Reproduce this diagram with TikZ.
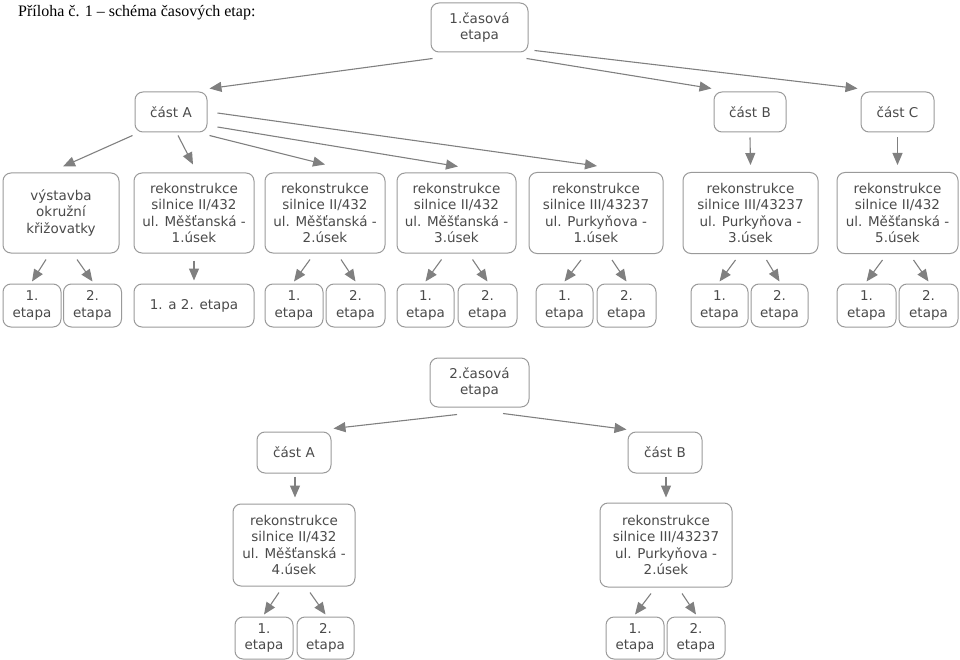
\documentclass[tikz,border=0pt]{standalone}
\usepackage{fontspec}
\setmainfont{Liberation Serif}
\newfontfamily\dv{DejaVu Sans}
\usetikzlibrary{arrows.meta}
\definecolor{boxgray}{HTML}{9A9A9A}
\definecolor{txtgray}{HTML}{4A4A4A}
\definecolor{arrgray}{HTML}{808080}
\tikzset{
  box/.style={draw=boxgray, line width=1pt, rounded corners=8pt, align=center, inner sep=0pt,
    font=\dv\fontsize{13.5}{16.5}\selectfont, text=txtgray},
  arr/.style={draw=arrgray, line width=1.1pt, -{Triangle[length=12pt,width=10pt]}}
}
\newcommand\leafarr[3]{%
  \draw[arr] ([xshift=-15pt,yshift=-6pt]#1.south) -- ([yshift=2pt]#2.north);
  \draw[arr] ([xshift=16pt,yshift=-6pt]#1.south) -- ([yshift=2pt]#3.north);}
\begin{document}
\begin{tikzpicture}[x=1pt,y=-1pt]
\useasboundingbox (0,0) rectangle (960,660);
\node[anchor=base west, font=\fontsize{16}{19}\selectfont, inner sep=0pt] (title) at (18,17) {Příloha č. 1 – schéma časových etap:};

% top tree
\node[box, minimum width=97pt, minimum height=49pt] (T1) at (479.5,27.5) {1.časová\\etapa};
\node[box, minimum width=72pt, minimum height=40pt] (A1) at (171,112) {část A};
\node[box, minimum width=72pt, minimum height=40pt] (B1) at (750,112) {část B};
\node[box, minimum width=73pt, minimum height=40pt] (C1) at (897.5,112) {část C};

\node[box, minimum width=116pt, minimum height=80pt] (V) at (61,213) {výstavba\\okružní\\křižovatky};
\node[box, minimum width=120pt, minimum height=80pt] (R1) at (194,213) {rekonstrukce\\silnice II/432\\ul. Měšťanská -\\1.úsek};
\node[box, minimum width=120pt, minimum height=80pt] (R2) at (325,213) {rekonstrukce\\silnice II/432\\ul. Měšťanská -\\2.úsek};
\node[box, minimum width=119pt, minimum height=80pt] (R3) at (456.5,213) {rekonstrukce\\silnice II/432\\ul. Měšťanská -\\3.úsek};
\node[box, minimum width=134pt, minimum height=81pt] (P1) at (596,213) {rekonstrukce\\silnice III/43237\\ul. Purkyňova -\\1.úsek};
\node[box, minimum width=135pt, minimum height=81pt] (P3) at (750.5,213) {rekonstrukce\\silnice III/43237\\ul. Purkyňova -\\3.úsek};
\node[box, minimum width=121pt, minimum height=81pt] (R5) at (897.5,213) {rekonstrukce\\silnice II/432\\ul. Měšťanská -\\5.úsek};

\node[box, minimum width=58pt, minimum height=43pt] (Va) at (32,305.5) {1.\\etapa};
\node[box, minimum width=58pt, minimum height=43pt] (Vb) at (92.5,305.5) {2.\\etapa};
\node[box, minimum width=120pt, minimum height=43pt] (R1L) at (194,305.5) {1. a 2. etapa};
\node[box, minimum width=58pt, minimum height=43pt] (R2a) at (294,305.5) {1.\\etapa};
\node[box, minimum width=59pt, minimum height=43pt] (R2b) at (355.5,305.5) {2.\\etapa};
\node[box, minimum width=57pt, minimum height=43pt] (R3a) at (425.5,305.5) {1.\\etapa};
\node[box, minimum width=59pt, minimum height=43pt] (R3b) at (487.5,305.5) {2.\\etapa};
\node[box, minimum width=57pt, minimum height=43pt] (P1a) at (564.5,305.5) {1.\\etapa};
\node[box, minimum width=59pt, minimum height=43pt] (P1b) at (626.5,305.5) {2.\\etapa};
\node[box, minimum width=57pt, minimum height=43pt] (P3a) at (719.5,305.5) {1.\\etapa};
\node[box, minimum width=57pt, minimum height=43pt] (P3b) at (779.5,305.5) {2.\\etapa};
\node[box, minimum width=59pt, minimum height=43pt] (R5a) at (866.5,305.5) {1.\\etapa};
\node[box, minimum width=59pt, minimum height=43pt] (R5b) at (928.5,305.5) {2.\\etapa};

\draw[arr] ([xshift=2pt,yshift=-6pt]T1.south west) -- ([xshift=2pt,yshift=3pt]A1.north east);
\draw[arr] ([xshift=-2pt,yshift=-6pt]T1.south east) -- ([xshift=-2pt,yshift=3pt]B1.north west);
\draw[arr] ([xshift=6pt,yshift=2pt]T1.south east) -- ([xshift=-3pt,yshift=3pt]C1.north west);

\draw[arr] ([xshift=-2pt,yshift=-3pt]A1.south west) -- ([xshift=2pt,yshift=6pt]V.north);
\draw[arr] ([xshift=7pt,yshift=-3pt]A1.south) -- ([xshift=-1pt,yshift=8pt]R1.north);
\draw[arr] ([xshift=2pt,yshift=-3pt]A1.south east) -- ([yshift=8pt]R2.north);
\draw[arr] ([xshift=10pt,yshift=-15pt]A1.east) -- ([xshift=1.5pt,yshift=6pt]R3.north);
\draw[arr] ([xshift=10pt,yshift=-1pt]A1.east) -- ([xshift=1pt,yshift=6pt]P1.north);
\draw[arr] ([yshift=-5pt]B1.south) -- ([yshift=7pt]P3.north);
\draw[arr] ([yshift=-5pt]C1.south) -- ([yshift=7pt]R5.north);

\leafarr{V}{Va}{Vb}
\draw[arr] ([yshift=-7pt]R1.south) -- ([yshift=3pt]R1L.north);
\leafarr{R2}{R2a}{R2b}
\leafarr{R3}{R3a}{R3b}
\leafarr{P1}{P1a}{P1b}
\leafarr{P3}{P3a}{P3b}
\leafarr{R5}{R5a}{R5b}

% bottom tree
\node[box, minimum width=99pt, minimum height=49pt] (T2) at (479.5,382.5) {2.časová\\etapa};
\node[box, minimum width=74pt, minimum height=41pt] (A2) at (294,452.5) {část A};
\node[box, minimum width=74pt, minimum height=41pt] (B2) at (665,452.5) {část B};
\node[box, minimum width=122pt, minimum height=82pt] (R4) at (294,545) {rekonstrukce\\silnice II/432\\ul. Měšťanská -\\4.úsek};
\node[box, minimum width=132pt, minimum height=84pt] (P2) at (666,545) {rekonstrukce\\silnice III/43237\\ul. Purkyňova -\\2.úsek};
\node[box, minimum width=58pt, minimum height=42pt] (R4a) at (264,638) {1.\\etapa};
\node[box, minimum width=57pt, minimum height=42pt] (R4b) at (325.5,638) {2.\\etapa};
\node[box, minimum width=58pt, minimum height=42pt] (P2a) at (635,638) {1.\\etapa};
\node[box, minimum width=58pt, minimum height=42pt] (P2b) at (696,638) {2.\\etapa};

\draw[arr] ([xshift=-22.5pt,yshift=-7pt]T2.south) -- ([xshift=2pt,yshift=3pt]A2.north east);
\draw[arr] ([xshift=23.5pt,yshift=-6pt]T2.south) -- ([xshift=-1pt,yshift=2pt]B2.north west);
\draw[arr] ([xshift=1pt,yshift=-3pt]A2.south) -- ([xshift=1pt,yshift=6pt]R4.north);
\draw[arr] ([xshift=1pt,yshift=-3pt]B2.south) -- ([yshift=5pt]P2.north);
\leafarr{R4}{R4a}{R4b}
\leafarr{P2}{P2a}{P2b}
\end{tikzpicture}
\end{document}
